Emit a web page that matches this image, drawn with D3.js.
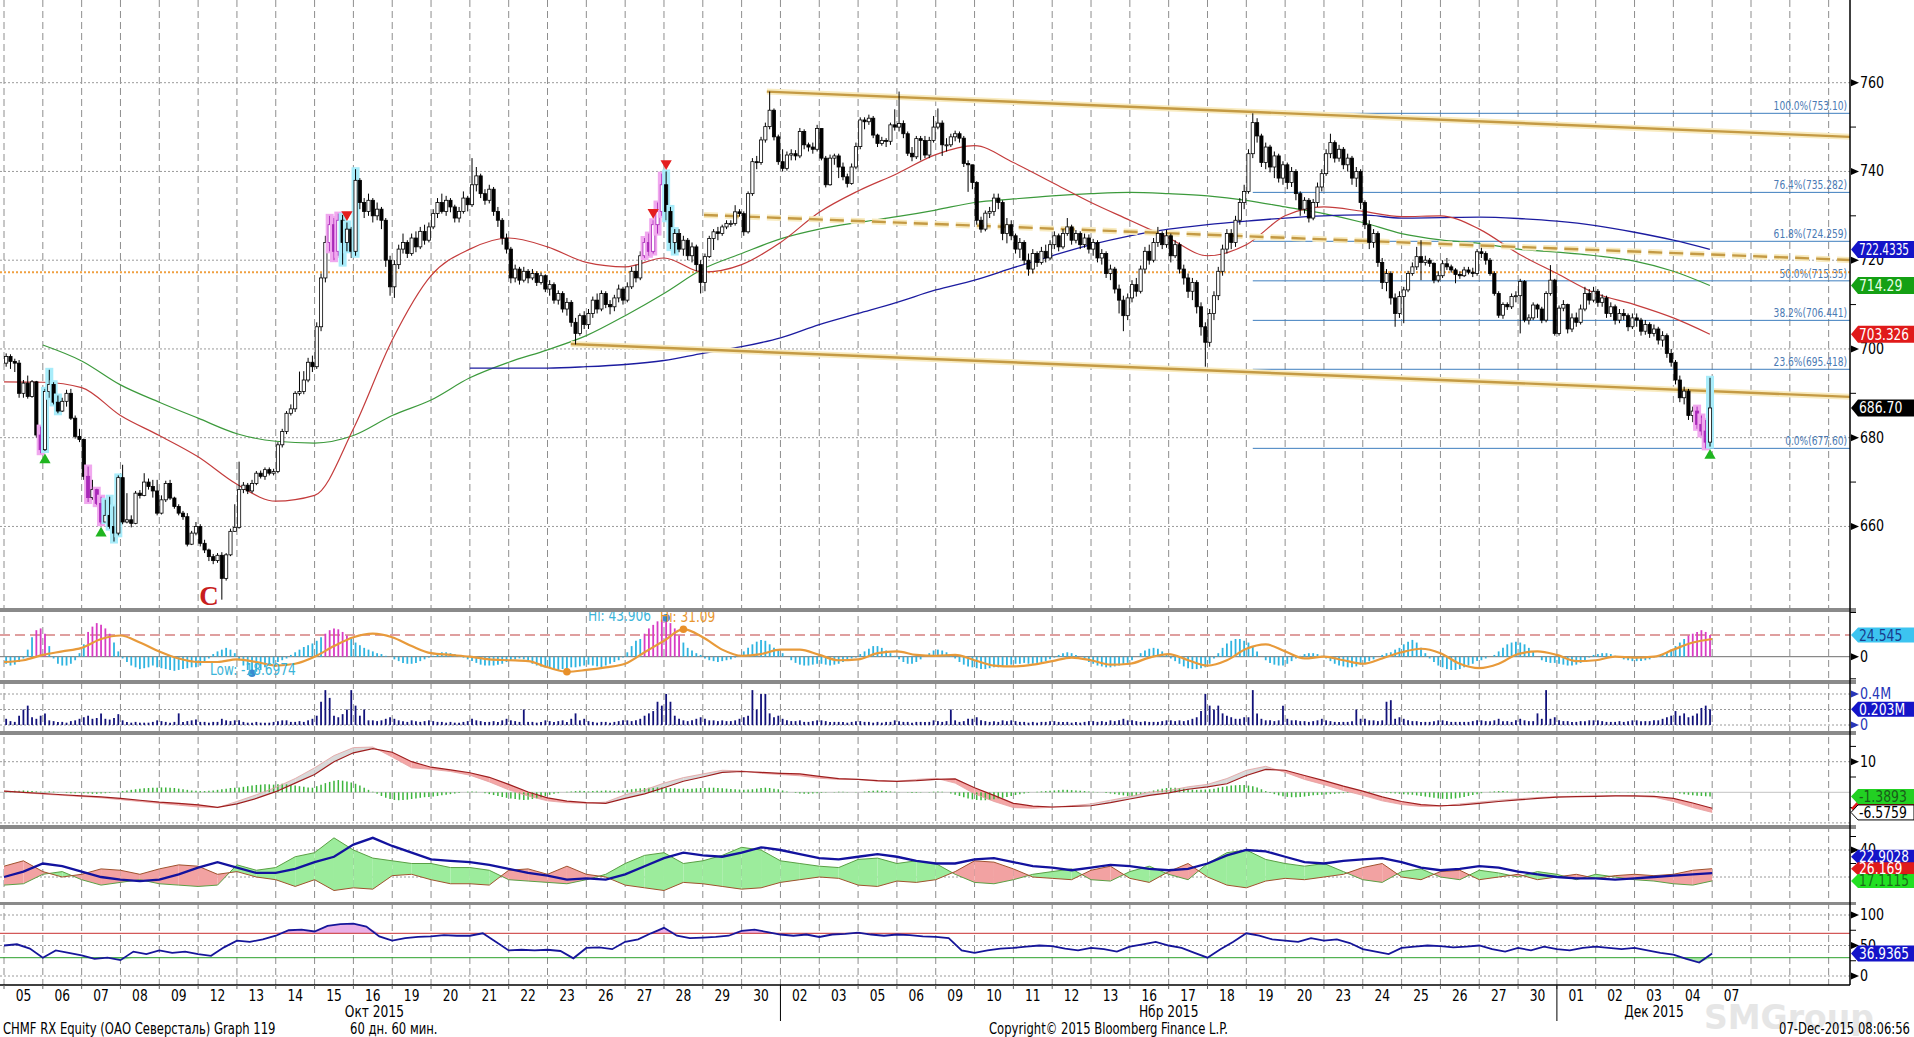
<!DOCTYPE html>
<html>
<head>
<meta charset="utf-8">
<script src="https://cdn.jsdelivr.net/npm/d3@7"></script>
<style>
  body { margin: 0; background: #fff; }
  svg text { font-family: "Liberation Sans Narrow", "DejaVu Sans Condensed", "Liberation Sans", sans-serif; }
</style>
</head>
<body>
<svg id="chart" width="1914" height="1037"></svg>
<script>
// ---------- axis labels ----------
var dayLabels = ['05','06','07','08','09','12','13','14','15','16','19','20','21','22','23','26','27','28','29','30',
                 '02','03','05','06','09','10','11','12','13','16','17','18','19','20','23','24','25','26','27','30',
                 '01','02','03','04','07'];
var monthNames = ['Окт 2015', 'Нбр 2015', 'Дек 2015'];
var monthAnchor = [9.54, 30.0, 42.5];     // trading-day index under the label
var monthBreaks = [20, 40];
var priceTicks = [660, 680, 700, 720, 740, 760];
var priceMinor = [670, 690, 710, 730, 750];

// ---------- hourly candles (9 bars a day, open = previous close) ----------
var firstOpen = 696.8;
var barClose = [
  698.3,697.2,696.8,690,692.3,689.3,692.6,680.6,677.3,
  690.4,692,688,686,688.2,690,684.4,680.3,679.6,
  671.3,666.5,668.3,665.2,661,662.5,660,658.5,671,
  661,661.5,660.7,667.5,667,670,669,668,663,
  666,669.7,666.4,664.5,663,662.2,656,658.5,660,
  656.2,654.7,653.2,652.3,653.5,648.3,653.6,658.9,659.8,
  668.3,669.3,668,669.7,672,671.3,672.8,672,672.4,
  678.4,681.4,685.5,686.5,690,690.4,693,697,696,
  705,716,724,728,722,729,724,727,722,
  738,733,731,733.5,730,731.5,729,720,714,
  719,722.5,724,721.5,725,723,726.5,724.5,727.5,
  730.5,733,731,733.5,732,729.5,731,734,732.5,
  737,739,735,733.5,736,731,729,725,722.5,
  716,718,715.5,717.5,716,717,715,716.5,713.5,
  714.5,711,712.5,709,710.5,706,703.5,707.5,705.5,
  708,711,709,712.5,710,709.5,711.5,713.5,711,
  714,717.5,716,721,724,722,728,731,737,
  731,724,726,722.5,724.5,721,723,719,715,
  720.8,724.9,726.4,726,727.5,728.3,728.3,730.9,730.5,
  726.4,735,742.2,742,747.1,750.1,753.8,747.8,742.2,
  740.7,743.7,744,743.5,749,746,745.5,745,749.7,
  743,737,743,743.5,741,738.8,737.3,741,745.6,
  751.6,751.2,752,748.2,746.3,747,746.8,750.5,750,
  750.8,748.5,744.1,743.3,747.4,747,743.7,747,750,
  750.9,746,746,747.8,748.5,747.5,741.8,741.5,737.5,
  729,727,730.6,731,734,733,726,728,725.5,
  722.5,724,720,718,721.5,719.5,722,720.5,723.5,
  725.5,723,726,727.5,724.5,726,723.5,725,722.5,
  724,720.5,721.5,717,718,713.5,711,707.5,711.5,
  714.5,713,718,722,720,724,726,723.5,725.5,
  721,723.5,718,716,713,715,709.5,705,701.5,
  708,712,717.5,722.5,726,724,729,733,735.5,
  744,751,748,742,745.5,741,743.5,738.5,741.5,
  737.5,740,735,731.5,733.5,729.5,733,736.5,739.5,
  744,746.5,743,745,741.5,743,738.5,740,733,
  728,724,726,719.5,715,717,711.5,708,711.8,
  713.3,717,718.5,720.8,719.5,720,719.3,715.5,716.5,
  719.2,718.5,717.8,716.8,716.5,717.8,717.3,717,721.9,
  721.5,720,717,712.5,707.6,710,709.5,711.8,712,
  715.2,706.5,707,709.9,709,706.5,712.5,715.5,703.5,
  709.2,710,704.5,707,706,709,712.5,711,713,
  710.5,711.5,708,709.5,706.5,708,707.5,705,707,
  706.5,704,705.5,703.5,704.5,702,703,699,697,
  693,689,690.5,685,686,683,681.5,679,686.7
];
var barHigh = [
  699,698.8,697.8,697.5,693,694,693,692.8,682.5,
  691,695.3,692.5,689.5,689,690.8,691,685,682,
  679.8,673.5,670.5,668.5,666.7,666,666.7,664.5,671.5,
  673.9,667.5,662.5,668,668.2,672,670.8,670.5,670.5,
  667,670.3,670.5,666.7,665,663.5,663,659,661,
  660.5,657,655,653.8,654,654.2,654,659.5,665,
  674.6,670,669.8,670.5,672.5,672.6,673.3,673.3,673,
  679,682,686,687.5,690.5,694.9,695,698,698.5,
  706,717,725.5,730,729.5,730.5,730.2,728.5,727.5,
  740.5,738.5,734,735,734,733,732,729.5,721,
  720,723.5,726,724.5,726,726.5,727.5,728,728.5,
  731.5,734,735,734.5,734,732.5,732,735.5,734.5,
  743,741,739.5,736,737,736.5,732,729.5,726,
  723,719,718.5,718.5,718,718,717.5,717.2,716.8,
  715.5,715,713.2,713,711.5,711,707,708,708.5,
  709,711.8,712.5,713.2,713,711,712.2,714.5,714,
  715,718.5,719,722,725,726,729,733,739.5,
  740,732,727,727,725.5,725,724,723.5,720,
  721.5,725.5,727,727.5,728,729,729,732.4,731.5,
  731,735.5,743,743.5,747.8,751,758,754.2,748.3,
  745,744.5,745,744.8,749.8,749.5,746.5,746.5,750.5,
  749,743.5,743.8,744,744,742,739.5,741.8,746.5,
  752.2,752.2,752.8,752.5,748.5,747.8,747.5,751,754,
  758,751.5,749,745.5,748,748,748,747.8,752.5,
  754.2,751.5,747.5,748.5,749.2,749,748,742.5,740,
  737.8,729.8,731.2,732,735,735,733.5,729.5,729,
  726,725,724.5,721.5,722.5,722,723,723.5,724.5,
  726.5,726,727,729.5,728,726.8,726.5,726,725.8,
  724.8,724.5,722.5,722,719,718.5,714.5,712,712.5,
  715.5,716,718.8,723,723.5,725,727.5,726.5,726.8,
  726,724.5,724,719,717,716,715.5,710.5,706,
  709,713,718.5,723.5,727,727,730,734,737,
  745,753.1,752,748.5,746.5,746,744.5,744,742.3,
  742,741,740.5,735.5,734.2,734,733.8,737.5,740.5,
  745,748.5,747,746,745.5,744,743.5,741,740.5,
  733.5,729,727,726.5,720.5,718,717.5,712.5,713,
  714,717.6,719.5,723,724.5,721,720.5,719.5,717.5,
  720,720.5,719,718.2,717.5,718.5,718.5,718.3,722.5,
  722.8,722,720.5,717.5,713,710.5,710.5,712.5,713,
  715.8,715.5,707.8,710.5,710.2,709.5,713,718.9,715.8,
  709.8,711,710.2,708,708.2,710,714,713.5,714,
  713.5,712.3,712,710.5,710,709,709,708,708,
  708,707,706.5,706,705.5,705,704,703.5,700,
  697.5,694,691.5,691,687,687,685,684,693.5
];
var barLow = [
  696,695.5,694.8,689,689,688.8,689,680,676.5,
  677,689,687.5,685.5,685.8,687,684,679.8,679,
  670.5,665.5,666,664.8,660.5,661,659.5,656.6,658,
  660.5,660.7,659.8,660.5,666.3,666.8,668.3,666.5,662.5,
  662.7,665.5,666,664,662.5,661.5,655.5,655.8,658,
  655.5,654,652.2,651.5,651.8,643.5,647.8,653.3,658.8,
  659.5,667.5,667.3,667.5,669.3,670.8,670.5,671.5,671.5,
  672,677.8,680.8,685,685.8,689.5,689.8,692.5,694.8,
  695.5,704,715,722,720,721,719,722,720.5,
  721,731.5,729.5,730,728.5,729,727,718.5,712,
  711.5,718,721.5,720.5,721,721.8,722.5,723.5,724,
  727,729.5,730.5,730,730.8,728.5,728.5,730.5,731,
  732,735.5,734,732.5,732.8,730,727.5,723.5,721.5,
  714.8,715,714.5,715,714.8,715.5,714.2,714.5,712.8,
  712,710.2,710,708.2,707.5,705,701,703,704.5,
  704.5,707,708,708.5,709.2,707.8,708.5,710.5,710,
  710.5,713.5,715,715.5,720.5,721,721.5,726,730,
  729,722.5,721.5,721.8,721,720,719.5,717.5,712.5,
  713,720.5,722.3,724.5,725.5,727,727.5,727.8,729.8,
  725.5,726,734.5,740.5,741.5,746.5,749.5,747,741.5,
  740,740.2,742.5,742.5,743,745,744.5,744,744.5,
  742.5,736.4,736.8,741.5,738.5,738,736.4,737,740.5,
  745,749.5,750.5,747.5,745.5,745.8,745.5,746,749.2,
  749,747.5,743.5,742.3,742.8,742.5,743,743,746.5,
  749.5,743.5,744.5,745.5,746.8,746.5,741,735.4,736,
  728,726.2,726.5,729.5,730,731.5,724.5,723.8,724.5,
  721.5,720.5,719,716.5,717,718.5,719,719.5,720,
  722.5,722,722.5,725.5,723.5,723.8,722.5,722.8,721.5,
  721,719.5,719,716,715.5,712.5,708,704,706.5,
  710.5,711.8,712.5,717,719,719.5,723,722.5,722.8,
  719.5,720.5,717,714.5,711.5,711,708,703,696,
  700.5,706.5,711,716.5,721.5,722.5,723,728,731.5,
  735,743,746.5,741,740.5,739.8,738.5,737.5,737,
  736,736.5,733.5,730,730.5,728.5,729,732,735.5,
  739,743,742,742.2,740.5,740,737,736.5,731.5,
  727,722.5,722.8,718.5,713.5,713,710,705,707,
  705.8,712.8,716.5,717.8,715.5,718.8,718.5,714.8,715,
  716,717.8,717.2,714.8,715.8,716.2,716.8,716.2,716.5,
  720.5,719,716.5,712,707,706.8,708.8,709,710.5,
  703.5,706,705.5,706.5,707,705.8,706,712,703,
  703,708.5,703.5,703.8,705,705.5,708.5,710,710.5,
  709.5,709.5,707,707.2,705.5,705.8,706.5,704,704.5,
  705,703,703.2,702.5,702.8,701,700.5,698,696,
  692,688,687.5,684,683.5,682,680.5,677.6,678
];
var hiliteMagenta = [8, 19, 21, 22, 75, 76, 77, 148, 149, 150, 151, 152, 392, 393, 394];
var hiliteCyan = [9, 10, 11, 12, 23, 24, 25, 26, 78, 79, 81, 153, 154, 155, 395];
var buySignals = [9, 22, 395];
var sellSignals = [79, 150, 153];
var letterBar = 47, letterPrice = 644.3;

// ---------- moving averages, one value per trading day ----------
var maRed = [692.6,692.5,691.3,685,680.5,675.7,669.5,665.7,667,682,702,716.5,722.5,725,723,719.5,718.5,720.5,717.3,719,
             724,730.8,735.6,739.5,743.8,745.8,742,737.5,733,729,725,721,723.5,730,732,731,729.8,730,727,721.5,
             717,712.5,710,707,703.326];
var maGreen = [null,700.9,697.3,691.9,688,684.4,680.9,679.2,678.8,680.5,685,688.5,693.5,697,699.8,703,707.5,712.5,718,721.5,
               724.8,727,728.5,729.8,731.3,733,733.8,734.5,735,735.3,735,734.5,733.5,732,730.5,728.5,726,724.6,723.8,722.5,
               721.8,721,719.8,717.5,714.29];
var maBlue = [null,null,null,null,null,null,null,null,null,null,null,null,695.7,695.7,695.7,696,696.5,697.4,699,700.5,
              702.5,705.5,708,710.5,713.3,715.5,718.3,721,723.5,725.5,727,728,728.8,729.5,730,730.2,729.5,729.6,729.7,729.4,
              728.8,727.8,726.3,724.5,722.4335];

// ---------- drawn studies ----------
var fibPct = [100, 76.4, 61.8, 50, 38.2, 23.6, 0];
var fibLevelText = ['753.10', '735.282', '724.259', '715.35', '706.441', '695.418', '677.60'];
var fibStartBar = 289;
var channelUpper = [[19.65, 758.0], [47.55, 747.8]];
var channelLower = [[14.6, 701.1], [47.55, 689.2]];
var channelMid = [[18.03, 730.2], [47.55, 720.05]];
var levelDotted = 717.3;

// ---------- panel 2: oscillator histogram (per bar) + signal (per half day) ----------
var oscHist = [
  -8,-10,-9,-6,-2,8,22,30,32,
  26,12,-2,-8,-10,-10,-8,-4,4,
  14,28,34,38,36,32,26,16,6,
  -2,-6,-10,-12,-14,-13,-12,-10,-12,
  -13,-14,-15,-16,-15,-14,-13,-12,-12,
  -10,-6,-2,3,6,8,10,8,4,
  -4,-10,-15,-18.6974,-17,-15,-12,-10,-8,
  -6,-4,-2,2,5,8,11,13,15,
  18,22,26,30,32,31,28,24,20,
  16,13,10,8,6,4,3,1,0,
  -3,-5,-7,-8,-8,-7,-5,-3,-1,
  1,3,5,5,4,3,1,-1,-3,
  -5,-7,-9,-10,-10,-10,-9,-8,-6,
  -4,-3,-2,-3,-6,-8,-10,-11,-12,
  -13,-14,-15,-14,-13,-12,-12,-11,-10,
  -9,-10,-11,-12,-10,-8,-6,-4,-1,
  5,12,18,20,26,32,36,40,42,
  43.906,38,32,24,16,10,7,4,2,
  -2,-4,-5,-6,-5,-4,-3,-1,2,
  6,10,14,17,19,18,14,10,8,
  4,0,-4,-7,-9,-10,-10,-9,-8,
  -8,-9,-10,-9,-8,-6,-4,-2,-1,
  3,6,9,12,12,10,7,4,1,
  -3,-6,-8,-8,-6,-3,0,4,7,
  8,7,5,2,-2,-6,-9,-11,-12,
  -13,-14,-14,-13,-12,-12,-11,-10,-9,
  -8,-8,-7,-8,-8,-7,-6,-5,-3,
  -1,2,4,5,4,2,0,-3,-6,
  -8,-10,-11,-12,-12,-11,-10,-9,-7,
  -4,0,4,7,9,10,9,6,2,
  -2,-5,-8,-11,-13,-14,-14,-13,-12,
  -8,-2,4,10,15,18,20,20,18,
  16,12,6,0,-4,-7,-9,-10,-10,
  -8,-5,-2,1,3,4,4,3,1,
  -2,-5,-8,-10,-11,-12,-12,-11,-9,
  -7,-5,-3,0,2,4,5,8,10,
  14,17,19,16,10,4,-2,-6,-10,
  -12,-14,-15,-15,-14,-12,-10,-8,-5,
  -4,-2,0,2,6,10,14,16,17,
  16,14,10,6,0,-4,-6,-7,-7,
  -8,-9,-10,-10,-9,-7,-4,-1,2,
  3,4,4,3,1,-1,-3,-4,-5,
  -5,-5,-4,-3,-1,1,3,5,8,
  12,16,20,24,26,28,30,28,24.545
];
var oscSignal = [-6,-4, 2,6, 10,20, 24,16, 6,-2, -6,-6, -3,-6, -10,-8, 0,12, 22,26,
  22,12, 4,2, 0,-3, -4,-5, -12,-17, -15,-12, -8,5, 18,31.09, 22,8, 1,3,
  8,8, 2,-4, -3,4, 6,2, 1,2, -4,-10, -11,-9, -5,-1, -4,-9, -8,-1,
  3,-4, -10,-4, 9,14, 6,-2, 0,-4, -8,-2, 5,9, 4,-8, -13,-8, 3,6,
  2,-5, -4,0, -1,0, 8,16, 20];
var oscHiBar = 153, oscLowBar = 57, sigHiIdx = 35, sigLowIdx = 29;

// ---------- panel 3: volume per bar, in 0.01M ----------
var volume = [
  8,5,4,12,20,25,10,8,12,  15,6,5,4,4,3,5,6,8,  10,12,8,9,15,8,7,9,14,  6,4,3,4,3,3,3,4,6,
  5,4,3,4,15,4,5,6,7,  4,4,3,4,4,8,6,5,6,  6,4,3,3,4,3,3,3,4,  5,6,6,4,4,5,4,6,8,
  12,30,45,35,12,10,14,20,45,  25,12,20,6,6,5,6,8,10,  8,6,5,4,6,5,4,5,6,  5,4,4,3,4,3,3,4,5,
  8,6,5,4,4,5,4,6,8,  6,5,4,20,4,4,3,4,6,  5,4,5,6,4,8,15,6,8,  5,4,3,4,4,3,4,5,6,
  6,5,6,8,12,15,18,30,25,  40,30,12,8,6,5,6,8,10,  8,6,6,5,6,5,5,6,8,  10,12,45,20,40,40,15,10,12,
  8,6,5,5,6,4,4,5,6,  6,5,4,4,4,4,3,4,5,  5,4,4,3,4,3,4,4,6,  5,4,4,3,4,4,4,4,6,
  5,4,5,20,6,4,5,8,8,  10,6,5,4,5,4,6,5,6,  5,4,4,3,4,3,4,4,5,  5,4,4,4,3,4,3,4,5,
  5,4,5,4,6,5,6,8,6,  6,5,4,5,4,4,4,5,6,  6,5,6,5,6,8,10,18,40,  25,20,25,15,12,10,8,8,10,
  10,45,15,8,6,6,5,6,25,  8,6,6,5,5,4,5,6,8,  6,5,4,4,4,4,5,20,8,  8,6,6,5,6,30,32,8,10,
  8,6,5,5,4,4,4,5,6,  6,5,4,4,4,4,4,5,6,  6,5,5,6,8,5,5,4,6,  8,6,5,5,15,8,45,8,10,
  6,5,5,4,4,5,5,6,6,  6,5,4,4,4,5,4,5,6,  6,5,5,5,6,6,8,10,12,  18,12,15,10,12,15,22,25,20.3
];

// ---------- panel 4: MACD lines (per half day) + histogram (per bar) ----------
var macdLine = [0.4,0, -0.4,-0.8, -1.2,-1.5, -2,-2.6, -3.2,-3.6, -4.1,-4.9, -3.8,-2, 0.2,3, 5.8,10, 12.9,14.3,
  13.1,10, 8.2,7.3, 6.4,4.9, 2.6,0.1, -1.8,-2.9, -3.4,-3.6, -2,-0.5, 1.5,3.6, 5,6.5, 6.8,6.5,
  6.2,6, 5.2,4.5, 4.2,3.8, 3.6,3.8, 4.2,4.4, 1.5,-1, -3.6,-4.5, -4.8,-4.6, -4.4,-3.4, -2.2,-1,
  -0.2,1, 1.8,2.8, 5.5,7.5, 7.2,5.5, 3.8,2, 0.4,-1.5, -3,-4, -4.4,-4.2, -3.6,-3, -2.5,-2,
  -1.6,-1.4, -1.3,-1.2, -1.2,-1.3, -2,-3.5, -5.2];
var macdLead = [0.4,-0.1, -0.6,-1, -1.4,-1.8, -2.4,-3, -3.6,-4.2, -4.8,-5, -3,-0.8, 1.6,4.5, 8,12, 14.6,14.8,
  11.5,8, 7.5,6.8, 5.6,3.4, 0.8,-1.2, -2.8,-3.4, -3.6,-3.2, -0.8,0.8, 3,4.8, 6,7.2, 7,6.2,
  5.8,5.4, 4.6,4.2, 4.2,3.6, 3.6,4.2, 4.6,3, -0.5,-3, -5,-5.2, -4.9,-4.4, -3.8,-2.6, -1.4,0,
  0.6,1.8, 2.6,4.5, 7.2,8.5, 6.5,4.2, 2.5,0.6, -1,-2.8, -4,-4.6, -4.6,-3.8, -3.2,-2.6, -2.1,-1.7,
  -1.4,-1.3, -1.2,-1.1, -1.3,-1.6, -3,-5, -6.5759];
var macdHist = [
  0.3,0.4,0.5,0.5,0.6,0.5,0.4,0.3,0.2,  0.2,0.3,0.2,0.1,0,-0.2,-0.3,-0.3,-0.2,  -0.3,-0.4,-0.5,-0.5,-0.4,-0.3,-0.2,0,0.2,
  0.4,0.6,0.8,1,1.2,1.3,1.4,1.5,1.5,  1.6,1.6,1.5,1.4,1.2,1,0.8,0.6,0.5,  0.4,0.4,0.5,0.6,0.8,1,1.2,1.4,1.5,
  1.6,1.8,2,2.2,2.4,2.5,2.6,2.6,2.5,  2.6,2.8,2.6,2.4,2.2,2,1.8,1.6,1.5,  2,2.5,3,3.4,3.8,4,3.8,3.5,3.2,
  2.8,2.2,1.5,0.8,0.2,-0.5,-1.2,-1.8,-2.2,  -2.5,-2.6,-2.5,-2.4,-2.2,-2,-1.8,-1.6,-1.5,  -1.4,-1.2,-1,-0.8,-0.6,-0.4,-0.2,0,0.2,
  0.3,0.2,0,-0.3,-0.6,-0.9,-1.2,-1.5,-1.8,  -2,-2.2,-2.4,-2.5,-2.4,-2.2,-2,-1.6,-1.2,  -0.8,-0.5,-0.3,0,0.2,0.3,0.4,0.5,0.4,
  0.3,0.4,0.5,0.5,0.6,0.5,0.4,0.5,0.6,  0.8,1,1.2,1.3,1.4,1.5,1.5,1.6,1.6,  1.5,1.4,1.3,1.2,1.2,1.1,1.2,1.3,1.4,
  1.4,1.5,1.5,1.4,1.3,1.2,1.1,1,0.9,  0.8,0.9,1,1.2,1.4,1.5,1.4,1.2,1,  0.6,0.3,0,-0.2,-0.4,-0.5,-0.5,-0.4,-0.3,
  -0.2,-0.1,0,0.1,0.2,0.2,0.1,0,-0.1,  0,0.2,0.4,0.5,0.6,0.5,0.4,0.3,0.2,  0.1,0,-0.1,-0.2,-0.2,-0.1,0,0.1,0.2,
  0.3,0.2,0,-0.4,-0.8,-1.2,-1.6,-2,-2.3,  -2.5,-2.6,-2.6,-2.5,-2.3,-2,-1.8,-1.5,-1.2,  -0.9,-0.6,-0.4,-0.2,0,0.2,0.3,0.4,0.5,
  0.6,0.7,0.8,0.8,0.7,0.6,0.5,0.4,0.3,  0.2,0.1,0,-0.2,-0.4,-0.6,-0.8,-1,-1.2,  -1.2,-1,-0.6,-0.2,0.2,0.6,0.9,1.2,1.4,
  1.5,1.5,1.4,1.2,1,0.9,0.8,0.8,0.9,  1,1.2,1.5,1.8,2,2.2,2.3,2.4,2.4,  2.2,2,1.6,1,0.4,-0.2,-0.6,-1,-1.3,
  -1.5,-1.6,-1.6,-1.5,-1.4,-1.2,-1,-0.9,-0.8,  -0.7,-0.6,-0.5,-0.4,-0.3,-0.2,-0.1,0,0.1,  0.2,0.2,0.1,0,-0.1,-0.2,-0.3,-0.4,-0.5,
  -0.6,-0.7,-0.8,-1,-1.2,-1.4,-1.6,-1.8,-2,  -2.1,-2.2,-2.1,-2,-1.8,-1.5,-1.2,-0.9,-0.6,  -0.3,0,0.2,0.3,0.4,0.4,0.3,0.2,0.1,
  0,0.1,0.2,0.3,0.3,0.2,0.1,0,-0.1,  -0.1,0,0.1,0.2,0.2,0.2,0.1,0.1,0,  0,0.1,0.2,0.2,0.2,0.1,0,-0.1,-0.1,
  -0.1,0,0.1,0.2,0.3,0.3,0.2,0.1,0,  -0.2,-0.4,-0.6,-0.8,-1,-1.1,-1.2,-1.3,-1.3893
];

// ---------- panel 5: directional movement (per half day) ----------
var adx = [20,24, 30,28, 24,20, 18,17, 18,22, 27,31, 27,23, 23,26, 31,35, 44,49,
  43,38, 33,32, 31,29, 26,23, 21,18, 19,18, 22,28, 34,38, 36,35, 38,42,
  40,37, 34,33, 35,37, 35,32, 30,30, 33,34, 31,28, 27,25, 27,29, 28,26,
  25,26, 30,36, 40,39, 35,31, 30,32, 33,34, 31,27, 25,26, 28,27, 24,22,
  20,19, 19,18, 19,20, 21,22, 22.9028];
var diPlus = [14,15, 22,24, 18,14, 16,18, 15,14, 13,14, 29,25, 27,35, 38,49, 40,34,
  32,30, 30,27, 27,25, 18,17, 16,15, 18,22, 30,36, 38,30, 32,36, 42,40,
  32,30, 28,27, 33,34, 30,32, 30,22, 16,15, 18,22, 24,26, 18,17, 24,28,
  22,18, 30,38, 40,33, 30,28, 30,24, 18,16, 24,26, 20,18, 25,23, 20,24,
  22,18, 22,20, 18,17, 15,14, 17.1115];
var diMinus = [28,32, 24,20, 22,26, 25,22, 26,29, 28,22, 24,20, 18,13, 18,10, 12,11,
  21,22, 18,15, 15,14, 25,26, 22,28, 22,20, 14,12, 10,16, 15,13, 11,12,
  16,18, 20,19, 14,13, 17,16, 18,24, 32,31, 26,20, 19,18, 25,28, 19,16,
  24,30, 20,14, 12,17, 19,18, 20,22, 27,30, 20,18, 24,25, 18,20, 22,18,
  20,22, 19,21, 22,21, 22,25, 26.169];

// ---------- panel 6: RSI (three samples a day) ----------
var rsi = [50,52,45, 30,42,38, 34,28,30, 26,40,36, 42,38,40, 36,33,47, 58,56,60, 66,75,76, 73,82,85, 86,81,65,
  58,62,64, 65,67,66, 66,70,56, 42,43,42, 43,41,29, 46,47,44, 56,60,70, 79,66,62, 63,64,66, 74,76,72,
  68,66,68, 64,68,69, 71,68,66, 68,67,65, 64,62,42, 38,42,45, 46,48,50, 49,45,42, 46,44,40, 48,52,56,
  50,46,38, 30,44,56, 70,66,60, 58,56,62, 58,60,54, 44,40,36, 46,48,50, 49,47,48, 50,44,40, 46,42,48,
  44,42,46, 48,46,44, 46,42,38, 35,28,22, 36.9365];
var rsiUpper = 70, rsiLower = 30;

// =====================================================================
var W = 1914, H = 1037, plotR = 1850, axisY = 985;
var svg = d3.select('#chart');

var xDay = d3.scaleLinear().domain([0, 47.55]).range([4, plotR]);
function barX(i) { return xDay(Math.floor(i / 9) + (i % 9 + 0.5) / 9); }
function halfX(j) { return xDay(j / 2); }
function thirdX(j) { return xDay(j / 3); }

var yP = d3.scaleLinear().domain([680, 760]).range([437.7, 82.7]);
var y2 = d3.scaleLinear().domain([0, 24.545]).range([656.7, 635]);
var y3 = d3.scaleLinear().domain([0, 0.4]).range([725, 694]);
var y4 = d3.scaleLinear().domain([0, 10]).range([792.3, 761.7]);
var y5 = d3.scaleLinear().domain([20, 40]).range([877, 850]);
var y6 = d3.scaleLinear().domain([0, 100]).range([976, 915]);

// squeeze a text to a narrow face (no narrow font is installed)
function narrow(sel, f) {
  sel.each(function() {
    var w = this.getComputedTextLength();
    if (w > 0) d3.select(this).attr('textLength', w * f).attr('lengthAdjust', 'spacingAndGlyphs');
  });
  return sel;
}
function fitText(sel, maxW) {
  sel.each(function() {
    var w = +d3.select(this).attr('textLength') || this.getComputedTextLength();
    if (w > maxW) d3.select(this).attr('textLength', maxW).attr('lengthAdjust', 'spacingAndGlyphs');
  });
  return sel;
}

var panels = [
  {id: 'p1', top: 0, bottom: 608},
  {id: 'p2', top: 612, bottom: 680},
  {id: 'p3', top: 684, bottom: 731},
  {id: 'p4', top: 735, bottom: 825},
  {id: 'p5', top: 829, bottom: 902},
  {id: 'p6', top: 905, bottom: 985}
];
var defs = svg.append('defs');
panels.forEach(function(p) {
  defs.append('clipPath').attr('id', 'clip-' + p.id)
    .append('rect').attr('x', 0).attr('y', p.top).attr('width', plotR).attr('height', p.bottom - p.top);
});
function layer(id) { return svg.append('g').attr('clip-path', 'url(#clip-' + id + ')'); }

// grid
var grid = svg.append('g');
d3.range(0, 48).forEach(function(k) {
  grid.append('line').attr('x1', xDay(k)).attr('x2', xDay(k)).attr('y1', 0).attr('y2', axisY)
    .attr('stroke', '#8e8e8e').attr('stroke-width', 1).attr('stroke-dasharray', '7,4');
});
function hdot(y) {
  grid.append('line').attr('x1', 0).attr('x2', plotR).attr('y1', y).attr('y2', y)
    .attr('stroke', '#9a9a9a').attr('stroke-dasharray', '2,2');
}
priceTicks.forEach(function(v) { hdot(yP(v)); });
[0, 0.2, 0.4].forEach(function(v) { hdot(y3(v)); });
[10, -10].forEach(function(v) { hdot(y4(v)); });
[20, 40].forEach(function(v) { hdot(y5(v)); });
[0, 50, 100].forEach(function(v) { hdot(y6(v)); });

// ---------------- main panel ----------------
var main = layer('p1');

fibPct.forEach(function(p, j) {
  var y = yP(+fibLevelText[j]);
  main.append('line').attr('x1', barX(fibStartBar)).attr('x2', plotR).attr('y1', y).attr('y2', y)
    .attr('stroke', '#3f7fbf').attr('stroke-width', 1);
  narrow(main.append('text').attr('x', plotR - 3).attr('y', y - 3).attr('text-anchor', 'end')
    .attr('fill', '#4a7ab4').style('font-size', '12px').text(p.toFixed(1) + '%(' + fibLevelText[j] + ')'), 0.84);
});

main.append('line').attr('x1', 0).attr('x2', plotR).attr('y1', yP(levelDotted)).attr('y2', yP(levelDotted))
  .attr('stroke', '#f0a040').attr('stroke-width', 2).attr('stroke-dasharray', '2,2');

function maLine(vals, col, w) {
  var line = d3.line().defined(function(d) { return d != null; })
    .x(function(d, k) { return xDay(Math.min(k, 43.94)); }).y(function(d) { return yP(d); })
    .curve(d3.curveMonotoneX);
  main.append('path').attr('d', line(vals)).attr('fill', 'none').attr('stroke', col).attr('stroke-width', w);
}
maLine(maGreen, '#3c9a3c', 1.2);
maLine(maBlue, '#1c1ca0', 1.3);
maLine(maRed, '#c43c3c', 1.2);

function trend(pts, dash) {
  [['#f8ebc0', 6], ['#c49a44', 2.4]].forEach(function(s) {
    var l = main.append('line').attr('x1', xDay(pts[0][0])).attr('y1', yP(pts[0][1]))
      .attr('x2', xDay(pts[1][0])).attr('y2', yP(pts[1][1]))
      .attr('stroke', s[0]).attr('stroke-width', s[1]);
    if (dash) l.attr('stroke-dasharray', dash);
  });
}
trend(channelUpper);
trend(channelLower);
trend(channelMid, '14,7');

var bars = barClose.map(function(c, i) {
  var o = i ? barClose[i - 1] : firstOpen;
  return {i: i, o: o, c: c, h: Math.max(barHigh[i], o, c), l: Math.min(barLow[i], o, c)};
});
var cg = main.append('g');
bars.forEach(function(b) {
  var x = barX(b.i);
  var hl = hiliteMagenta.indexOf(b.i) >= 0 ? 'm' : (hiliteCyan.indexOf(b.i) >= 0 ? 'c' : null);
  if (hl) {
    cg.append('rect').attr('x', x - 4).attr('y', yP(b.h) - 2).attr('width', 8)
      .attr('height', yP(b.l) - yP(b.h) + 4).attr('fill', hl === 'm' ? '#f0a8ee' : '#a8ecfa');
  }
  var col = hl === 'm' ? '#a828b8' : '#000';
  cg.append('line').attr('x1', x).attr('x2', x).attr('y1', yP(b.h)).attr('y2', yP(b.l))
    .attr('stroke', col).attr('stroke-width', 1);
  var top = yP(Math.max(b.o, b.c)), bot = yP(Math.min(b.o, b.c));
  cg.append('rect').attr('x', x - 1.6).attr('y', top).attr('width', 3.2).attr('height', Math.max(1, bot - top))
    .attr('fill', b.c >= b.o ? '#fff' : col).attr('stroke', col).attr('stroke-width', 0.8);
});

var tri = d3.symbol().type(d3.symbolTriangle).size(55);
buySignals.forEach(function(i) {
  main.append('path').attr('d', tri()).attr('fill', '#1fb51f')
    .attr('transform', 'translate(' + barX(i) + ',' + (yP(bars[i].l) + 9) + ')');
});
sellSignals.forEach(function(i) {
  main.append('path').attr('d', tri()).attr('fill', '#e41e1e')
    .attr('transform', 'translate(' + barX(i) + ',' + (yP(bars[i].h) - 8) + ') rotate(180)');
});
main.append('text').attr('x', barX(letterBar)).attr('y', yP(letterPrice)).attr('dominant-baseline', 'central')
  .attr('text-anchor', 'middle').attr('fill', '#c81e1e')
  .style('font-family', '"Liberation Serif", "DejaVu Serif", serif').style('font-weight', 'bold').style('font-size', '27px')
  .text('C');

// ---------------- panel 2 ----------------
var p2 = layer('p2');
p2.append('line').attr('x1', 0).attr('x2', plotR).attr('y1', y2(0)).attr('y2', y2(0)).attr('stroke', '#6e6e6e');
p2.append('line').attr('x1', 0).attr('x2', plotR).attr('y1', y2(24.545)).attr('y2', y2(24.545))
  .attr('stroke', '#c04040').attr('stroke-width', 1.2).attr('stroke-dasharray', '10,5');
oscHist.forEach(function(v, i) {
  p2.append('line').attr('x1', barX(i)).attr('x2', barX(i)).attr('y1', y2(0)).attr('y2', y2(v))
    .attr('stroke', v >= 24 ? '#d83cc4' : '#2fb4e0').attr('stroke-width', 1.8);
});
p2.append('path').attr('d', d3.line().x(function(d, j) { return halfX(j); }).y(function(d) { return y2(d); })
    .curve(d3.curveMonotoneX)(oscSignal))
  .attr('fill', 'none').attr('stroke', '#e89a3a').attr('stroke-width', 2.2);
[[barX(oscHiBar), y2(oscHist[oscHiBar]), '#3a8ad0'], [barX(oscLowBar), y2(oscHist[oscLowBar]), '#3a8ad0'],
 [halfX(sigHiIdx), y2(oscSignal[sigHiIdx]), '#e8902a'], [halfX(sigLowIdx), y2(oscSignal[sigLowIdx]), '#e8902a']]
  .forEach(function(m) { p2.append('circle').attr('cx', m[0]).attr('cy', m[1]).attr('r', 3.8).attr('fill', m[2]); });
narrow(p2.append('text').attr('x', 588).attr('y', 621).attr('fill', '#3cb4d8').style('font-size', '15px').text('Hi: 43.906'), 0.9);
narrow(p2.append('text').attr('x', 660).attr('y', 622).attr('fill', '#e8962e').style('font-size', '15px').text('Hi: 31.09'), 0.9);
narrow(p2.append('text').attr('x', 210).attr('y', 675).attr('fill', '#3cb4d8').style('font-size', '15px').text('Low: -18.6974'), 0.9);

// ---------------- panel 3: volume ----------------
var p3 = layer('p3');
volume.forEach(function(v, i) {
  p3.append('line').attr('x1', barX(i)).attr('x2', barX(i)).attr('y1', y3(0)).attr('y2', y3(v / 100))
    .attr('stroke', '#12127a').attr('stroke-width', 1.8);
});

// ---------------- band fill helper ----------------
function bandFill(g, a, b, xf, ys, colUp, colDown) {
  function poly(pts, col) { g.append('path').attr('d', 'M' + pts.join('L') + 'Z').attr('fill', col); }
  for (var j = 0; j < a.length - 1; j++) {
    var d0 = a[j] - b[j], d1 = a[j + 1] - b[j + 1], x0 = xf(j), x1 = xf(j + 1);
    if (d0 * d1 >= 0) {
      poly([[x0, ys(a[j])], [x1, ys(a[j + 1])], [x1, ys(b[j + 1])], [x0, ys(b[j])]], (d0 + d1) >= 0 ? colUp : colDown);
    } else {
      var t = d0 / (d0 - d1), xc = x0 + t * (x1 - x0), vc = a[j] + t * (a[j + 1] - a[j]);
      poly([[x0, ys(a[j])], [xc, ys(vc)], [x0, ys(b[j])]], d0 > 0 ? colUp : colDown);
      poly([[xc, ys(vc)], [x1, ys(a[j + 1])], [x1, ys(b[j + 1])]], d1 > 0 ? colUp : colDown);
    }
  }
}
function seriesPath(g, vals, xf, ys, col, w) {
  g.append('path').attr('d', d3.line().x(function(d, j) { return xf(j); }).y(function(d) { return ys(d); })(vals))
    .attr('fill', 'none').attr('stroke', col).attr('stroke-width', w);
}

// ---------------- panel 4: MACD ----------------
var p4 = layer('p4');
p4.append('line').attr('x1', 0).attr('x2', plotR).attr('y1', y4(0)).attr('y2', y4(0)).attr('stroke', '#c4c4c4');
bandFill(p4, macdLead, macdLine, halfX, y4, '#d9d9d9', '#f4a6a6');
macdHist.forEach(function(v, i) {
  p4.append('line').attr('x1', barX(i)).attr('x2', barX(i)).attr('y1', y4(0)).attr('y2', y4(v))
    .attr('stroke', '#3cb43c').attr('stroke-width', 1.5);
});
seriesPath(p4, macdLead, halfX, y4, '#e4a0a0', 0.8);
seriesPath(p4, macdLine, halfX, y4, '#9e1e1e', 1.2);

// ---------------- panel 5: DMI ----------------
var p5 = layer('p5');
bandFill(p5, diPlus, diMinus, halfX, y5, '#9cec9c', '#f2a2a2');
seriesPath(p5, diPlus, halfX, y5, '#5aa044', 1);
seriesPath(p5, diMinus, halfX, y5, '#a0522d', 1);
seriesPath(p5, adx, halfX, y5, '#12129e', 2.3);

// ---------------- panel 6: RSI ----------------
var p6 = layer('p6');
p6.append('path').attr('d', d3.area().x(function(d, j) { return thirdX(j); }).y0(y6(rsiUpper))
  .y1(function(d) { return y6(Math.max(d, rsiUpper)); })(rsi)).attr('fill', '#eab0e6');
p6.append('path').attr('d', d3.area().x(function(d, j) { return thirdX(j); }).y0(y6(rsiLower))
  .y1(function(d) { return y6(Math.min(d, rsiLower)); })(rsi)).attr('fill', '#ace8ac');
p6.append('line').attr('x1', 0).attr('x2', plotR).attr('y1', y6(rsiUpper)).attr('y2', y6(rsiUpper)).attr('stroke', '#c83030');
p6.append('line').attr('x1', 0).attr('x2', plotR).attr('y1', y6(rsiLower)).attr('y2', y6(rsiLower)).attr('stroke', '#2ca02c');
seriesPath(p6, rsi, thirdX, y6, '#16169a', 1.8);

// ---------------- separators & axes ----------------
[[608, 612], [680, 684], [731, 735], [825, 829], [902, 905]].forEach(function(s) {
  svg.append('rect').attr('x', 0).attr('y', s[0]).attr('width', plotR + 6).attr('height', s[1] - s[0]).attr('fill', '#8a8a8a');
});
svg.append('line').attr('x1', plotR).attr('x2', plotR).attr('y1', 0).attr('y2', axisY).attr('stroke', '#000').attr('stroke-width', 1.5);
svg.append('line').attr('x1', 0).attr('x2', plotR).attr('y1', axisY).attr('y2', axisY).attr('stroke', '#000').attr('stroke-width', 1.5);

var ax = svg.append('g');
function arrowTick(y, txt, col) {
  ax.append('path').attr('d', 'M' + (plotR + 1) + ',' + (y - 3.5) + 'L' + (plotR + 9) + ',' + y + 'L' + (plotR + 1) + ',' + (y + 3.5) + 'Z')
    .attr('fill', col || '#000');
  narrow(ax.append('text').attr('x', plotR + 10).attr('y', y + 5).attr('fill', col || '#000').style('font-size', '16px').text(txt), 0.88);
}
function minorTick(y) {
  ax.append('line').attr('x1', plotR).attr('x2', plotR + 6).attr('y1', y).attr('y2', y).attr('stroke', '#000');
}
priceTicks.forEach(function(v) { arrowTick(yP(v), String(v)); });
priceMinor.forEach(function(v) { minorTick(yP(v)); });
arrowTick(y2(0), '0');
minorTick(y2(-25)); minorTick(y2(50));
arrowTick(y3(0.4), '0.4M', '#2636b8');
arrowTick(y3(0), '0', '#2636b8');
arrowTick(y4(10), '10');
[15, 5, -5].forEach(function(v) { minorTick(y4(v)); });
arrowTick(y5(40), '40');
[50, 30].forEach(function(v) { minorTick(y5(v)); });
arrowTick(y6(100), '100');
arrowTick(y6(50), '50');
arrowTick(y6(0), '0');
[75, 25].forEach(function(v) { minorTick(y6(v)); });

function tag(y, txt, bg, fg, stroke, h) {
  h = h || 17;
  ax.append('path')
    .attr('d', 'M' + (plotR + 1) + ',' + y + 'L' + (plotR + 8) + ',' + (y - h / 2) + 'L' + W + ',' + (y - h / 2) +
      'L' + W + ',' + (y + h / 2) + 'L' + (plotR + 8) + ',' + (y + h / 2) + 'Z')
    .attr('fill', bg).attr('stroke', stroke || 'none');
  var t = ax.append('text').attr('x', plotR + 9).attr('y', y + 5.5).attr('fill', fg).style('font-size', '16px').text(txt);
  narrow(t, 0.86);
  fitText(t, W - plotR - 14);
}
tag(yP(maBlue[44]), '722.4335', '#1414c8', '#fff');
tag(yP(maGreen[44]), '714.29', '#14a014', '#e6ffe6');
tag(yP(maRed[44]), '703.326', '#e01a1a', '#fff');
tag(yP(barClose[barClose.length - 1]), '686.70', '#000', '#fff');
tag(y2(oscHist[oscHist.length - 1]), '24.545', '#3cc4f0', '#1a3c8c', null, 15);
tag(y3(volume[volume.length - 1] / 100), '0.203M', '#1414c8', '#fff', null, 15);
tag(y4(macdLine[macdLine.length - 1]), '', '#e01a1a', '#fff', null, 15);
tag(y4(macdHist[macdHist.length - 1]), '-1.3893', '#22d022', '#1a5a1a', null, 15);
tag(y4(macdLead[macdLead.length - 1]), '-6.5759', '#fff', '#000', '#000', 15);
tag(y5(diMinus[diMinus.length - 1]) - 12, '22.9028', '#1414c8', '#fff', null, 14);
tag(y5(diMinus[diMinus.length - 1]), '26.169', '#e01a1a', '#fff', null, 13);
tag(y5(diPlus[diPlus.length - 1]), '17.1115', '#22e022', '#1a6a1a', null, 14);
tag(y6(rsi[rsi.length - 1]), '36.9365', '#1414c8', '#fff', null, 16);

// x axis
dayLabels.forEach(function(t, k) {
  ax.append('line').attr('x1', xDay(k)).attr('x2', xDay(k)).attr('y1', axisY).attr('y2', axisY + 4).attr('stroke', '#666');
  narrow(ax.append('text').attr('x', xDay(k + 0.5)).attr('y', 1001).attr('text-anchor', 'middle')
    .style('font-size', '16px').text(t), 0.85);
});
monthBreaks.forEach(function(k) {
  ax.append('line').attr('x1', xDay(k)).attr('x2', xDay(k)).attr('y1', axisY).attr('y2', 1021).attr('stroke', '#000');
});
monthNames.forEach(function(t, j) {
  narrow(ax.append('text').attr('x', xDay(monthAnchor[j])).attr('y', 1017).attr('text-anchor', 'middle')
    .style('font-size', '16px').text(t), 0.85);
});

// footer
ax.append('text').attr('x', 1704).attr('y', 1029).attr('fill', '#e6e6e6')
  .style('font-family', '"DejaVu Sans", sans-serif').style('font-weight', 'bold').style('font-size', '33px').text('SMGroup');
function foot(x, txt, anchor) {
  narrow(ax.append('text').attr('x', x).attr('y', 1034).attr('text-anchor', anchor || 'start')
    .style('font-size', '15px').text(txt), 0.86);
}
foot(3, 'CHMF RX Equity (ОАО Северсталь) Graph 119');
foot(350, '60 дн. 60 мин.');
foot(989, 'Copyright© 2015 Bloomberg Finance L.P.');
foot(1910, '07-Dec-2015 08:06:56', 'end');
</script>
</body>
</html>
